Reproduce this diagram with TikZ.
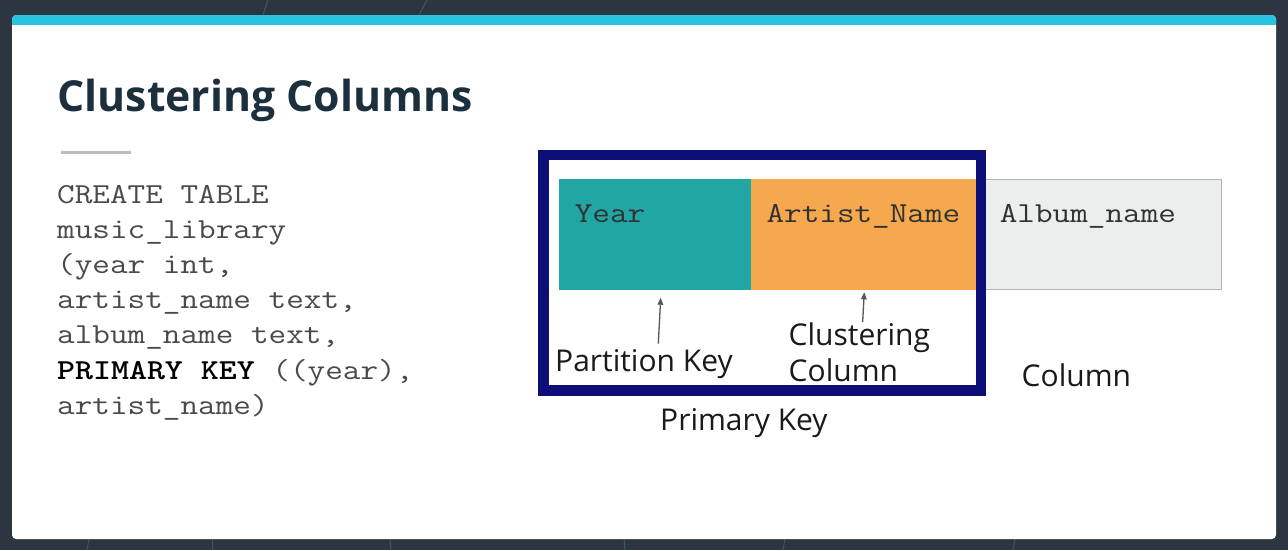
\documentclass[tikz,border=0pt]{standalone}
\usepackage{fontspec}
\setmainfont{Open Sans}
\usetikzlibrary{calc,arrows.meta}

\definecolor{slate}{HTML}{2D3640}
\definecolor{slateline}{HTML}{3A5663}
\definecolor{accent}{HTML}{27C3E0}
\definecolor{titleink}{HTML}{1C2F3D}
\definecolor{rulegray}{HTML}{B9BDBD}
\definecolor{codegray}{HTML}{4A4A4A}
\definecolor{tealcell}{HTML}{21A6A3}
\definecolor{orangecell}{HTML}{F5A84E}
\definecolor{graycell}{HTML}{ECEEED}
\definecolor{cellborder}{HTML}{B4B6B6}
\definecolor{navy}{HTML}{0E0E78}
\definecolor{labelink}{HTML}{1A1A1A}
\definecolor{pointer}{HTML}{555555}

% typewriter text, widened to the pitch of the listing
\newcommand{\wide}[1]{\scalebox{1.18}[1]{#1}}

\tikzset{
  titletext/.style={anchor=base west, inner sep=0, text=titleink,
    font=\fontsize{42.7}{50}\selectfont\bfseries},
  codeline/.style={anchor=base west, inner sep=0, text=codegray,
    font=\ttfamily\fontsize{29}{35}\selectfont},
  cell/.style={inner sep=0, minimum height=110, draw=cellborder, line width=0.8},
  celltext/.style={anchor=base west, inner sep=0, text=labelink!90,
    font=\ttfamily\fontsize{29}{35}\selectfont},
  keyframe/.style={draw=navy, line width=10.5, inner sep=0,
    minimum width=437.3, minimum height=235.5},
  caption/.style={anchor=base west, inner sep=0, text=labelink,
    font=\fontsize{30}{36}\selectfont},
  ptr/.style={draw=pointer, line width=1.3,
    -{Triangle[length=7, width=5.5]}},
  faint/.style={draw=slateline, line width=1}
}

\begin{document}
\begin{tikzpicture}[x=1pt, y=-1pt]
  \useasboundingbox (0,0) rectangle (1288,550);

  % backdrop and card
  \fill[slate] (0,0) rectangle (1288,550);
  \draw[faint] (268,0) -- (263,15);
  \draw[faint] (427,0) -- (419,15);
  \draw[faint] (905,15) arc[start angle=150, end angle=30, radius=70];
  \draw[faint] (89,539) -- (87,550);
  \draw[faint] (212,539) -- (212,550);
  \draw[faint] (390,539) -- (391,550);
  \draw[faint] (624,539) -- (625,550);
  \draw[faint] (785,539) -- (783,550);
  \draw[faint] (1015,539) -- (1013,550);
  \fill[white, rounded corners=4] (12,15) rectangle (1276,539);
  \begin{scope}
    \clip[rounded corners=4] (12,15) rectangle (1276,539);
    \fill[accent] (12,15) rectangle (1276,24.5);
  \end{scope}

  % heading and rule
  \node[titletext] (title) at (57.5,111) {Clustering Columns};
  \draw[rulegray, line width=3] (61,152.5) -- (131,152.5);

  % table definition
  \node[codeline] (c1) at (57,203)   {\wide{CREATE TABLE}};
  \node[codeline] (c2) at (57,238.2) {\wide{music\_library}};
  \node[codeline] (c3) at (57,273.4) {\wide{(year int,}};
  \node[codeline] (c4) at (57,308.6) {\wide{artist\_name text,}};
  \node[codeline] (c5) at (57,343.8) {\wide{album\_name text,}};
  \node[codeline] (c6) at (57,379)   {\wide{{\color{black}\bfseries PRIMARY KEY} ((year),}};
  \node[codeline] (c7) at (57,414.2) {\wide{artist\_name)}};

  % row of columns
  \node[cell, fill=graycell, minimum width=236] (album) at (1103,234.3) {};
  \node[cell, fill=tealcell, draw=tealcell, minimum width=192.4] (year) at (655.5,234.3) {};
  \node[cell, fill=orangecell, draw=orangecell, minimum width=224.3] (artist) at (863.85,234.3) {};
  \node[celltext] (yeartxt) at ($(year.north west)+(15.7,43.4)$) {\wide{Year}};
  \node[celltext] (artisttxt) at ($(artist.north west)+(15,43.4)$) {\wide{Artist\_Name}};
  \node[celltext] (albumtxt) at ($(album.north west)+(15,43.7)$) {\wide{Album\_name}};

  % primary key frame
  \node[keyframe] (pk) at (762.35,272.75) {};

  % captions
  \node[caption] (part) at (555,371.5) {Partition Key};
  \node[caption] (clus1) at (788.5,345) {Clustering};
  \node[caption] (clus2) at (788.5,381.5) {Column};
  \node[caption] (pklbl) at (660,430) {Primary Key};
  \node[caption] (collbl) at (1021.5,386.5) {Column};

  % pointers
  \draw[ptr] ($(year.south)+(2.8,54)$) -- ($(year.south)+(5.2,8)$);
  \draw[ptr] ($(artist.south)+(-1.2,32.5)$) -- ($(artist.south)+(0.4,2.5)$);
\end{tikzpicture}
\end{document}
